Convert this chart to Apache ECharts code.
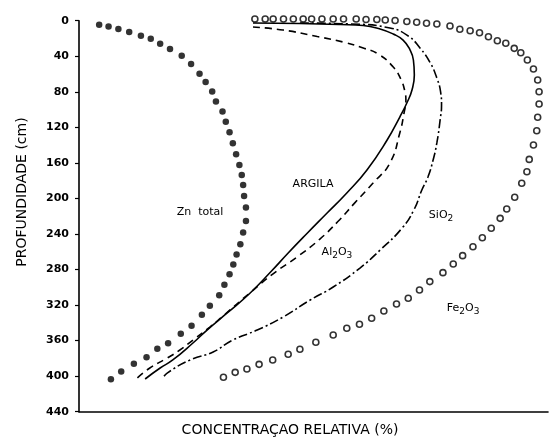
<!DOCTYPE html>
<html><head><meta charset="utf-8">
<script src="https://cdn.jsdelivr.net/npm/echarts@6/dist/echarts.min.js"></script>
<style>html,body{margin:0;padding:0;background:#fff}#c{width:550px;height:438px}</style>
</head><body><div id="c"></div>
<script>
// Depth axis (cm)
const depthMin = 0, depthMax = 440, depthStep = 40;

// [relative concentration (0-100), depth (cm)]
const znTotal = [[4.3,4.5],[6.3,6.4],[8.4,9.3],[10.7,12.7],[13.2,16.9],[15.3,20.3],[17.3,25.9],[19.4,31.9],[21.9,39.5],[23.9,48.8],[25.7,59.8],[27.0,69.1],[28.4,79.7],[29.2,91.0],[30.6,102.3],[31.3,113.6],[32.1,125.5],[32.8,137.9],[33.5,150.3],[34.2,162.4],[34.7,173.7],[35.0,185.0],[35.2,197.4],[35.6,210.1],[35.6,225.3],[35.0,238.3],[34.4,251.5],[33.6,263.2],[32.9,274.4],[32.1,285.4],[31.0,297.0],[29.9,309.0],[27.9,320.7],[26.2,330.8],[24.0,343.3],[21.7,352.3],[19.0,362.9],[16.7,369.2],[14.4,378.7],[11.7,386.1],[9.0,394.8],[6.8,403.5]];

const argila = [[37.1,2.6],[47.1,3.2],[55.7,4.3],[60.6,5.4],[64.2,9.3],[67.0,15.0],[69.1,21.8],[70.6,33.0],[71.3,44.2],[71.5,61.1],[71.0,78.0],[69.9,92.6],[68.4,108.4],[65.7,134.3],[61.4,168.0],[57.1,193.9],[52.9,216.4],[48.5,240.0],[44.5,262.0],[41.0,282.0],[36.5,306.4],[31.6,328.9],[27.3,348.1],[24.3,362.7],[20.0,381.8],[17.3,390.8],[14.1,403.2]];

const al2o3 = [[37.1,7.1],[43.5,10.5],[50.8,17.8],[56.7,24.5],[60.6,30.7],[63.8,37.5],[67.0,52.1],[68.7,66.7],[69.5,80.2],[69.7,89.2],[69.3,103.9],[68.4,126.3],[66.3,160.1],[62.7,182.6],[58.8,205.0],[55.2,226.0],[51.3,246.0],[46.6,265.5],[41.6,284.0],[36.5,306.0],[30.7,332.3],[27.9,344.7],[24.3,359.3],[21.5,370.6],[18.8,379.6],[15.1,390.8],[12.4,402.1]];

const sio2 = [[47.1,2.6],[57.8,3.7],[66.3,8.2],[70.2,17.2],[72.7,30.7],[74.8,46.5],[76.3,64.5],[77.1,80.2],[77.3,94.8],[77.0,111.7],[76.3,137.6],[75.5,156.8],[74.4,175.9],[73.1,190.5],[71.4,213.0],[68.9,233.3],[64.2,258.1],[59.9,278.3],[54.2,299.7],[49.3,314.3],[43.5,333.5],[38.0,348.1],[32.8,359.3],[28.6,372.8],[23.7,381.8],[18.8,396.5],[17.9,402.1]];

const fe2o3 = [[37.5,-1.9],[39.7,-1.9],[41.4,-1.9],[43.6,-1.9],[45.7,-1.9],[47.8,-1.9],[49.6,-1.9],[51.8,-1.9],[54.2,-1.9],[56.4,-1.9],[59.1,-1.9],[61.2,-1.4],[63.5,-1.4],[65.3,-0.8],[67.4,-0.2],[69.9,0.9],[72.0,1.8],[74.1,2.9],[76.3,3.7],[79.1,6.0],[81.2,9.7],[83.4,11.3],[85.4,13.5],[87.3,18.0],[89.2,22.5],[91.0,25.4],[92.8,31.1],[94.2,36.0],[95.6,44.2],[96.9,54.4],[97.8,66.7],[98.1,79.9],[98.1,93.7],[97.8,108.7],[97.6,123.8],[96.9,139.9],[96.0,156.1],[95.5,170.0],[94.4,183.0],[92.9,198.7],[91.2,211.9],[89.8,222.4],[87.9,233.6],[86.0,244.2],[84.0,254.3],[81.8,264.4],[79.8,273.8],[77.6,283.5],[74.8,293.6],[72.6,303.0],[70.2,312.4],[67.7,318.8],[65.0,326.7],[62.4,334.9],[59.8,341.6],[57.1,346.1],[54.2,353.7],[50.5,361.9],[47.1,369.8],[44.6,375.4],[41.3,381.8],[38.4,386.7],[35.8,391.9],[33.3,395.7],[30.8,401.3]];

// Curve labels: [text, x, depth]
const curveLabels = [
  ['{n|Zn  total}', 25.8, 215.6],
  ['{n|ARGILA}', 49.9, 183.8],
  ['{n|Al}{s|2}{n|O}{s|3}', 55.0, 260.3],
  ['{n|SiO}{s|2}', 77.2, 218.7],
  ['{n|Fe}{s|2}{n|O}{s|3}', 81.9, 323.3]
];

const FONT = '"DejaVu Sans", "Liberation Sans", sans-serif';
const chart = echarts.init(document.getElementById('c'));
const lineBase = (name, data, type) => ({
  name, type: 'line', data, smooth: 0.5, symbol: 'none', clip: false,
  lineStyle: { color: '#000', width: 1.6, type }
});
chart.setOption({
  animation: false,
  backgroundColor: '#fff',
  grid: { left: 79, right: 2, top: 20.7, bottom: 26.3 },
  xAxis: {
    type: 'value', min: 0, max: 100, position: 'bottom',
    axisLine: { onZero: false, lineStyle: { color: '#000', width: 1.6 } },
    axisTick: { show: false }, axisLabel: { show: false }, splitLine: { show: false }
  },
  yAxis: {
    type: 'value', inverse: true, min: depthMin, max: depthMax, interval: depthStep,
    axisLine: { show: true, onZero: false, lineStyle: { color: '#000', width: 1.6 } },
    axisTick: { show: true, inside: false, length: 4, lineStyle: { color: '#000', width: 1.2 } },
    axisLabel: { color: '#000', fontSize: 11, fontFamily: FONT, fontWeight: 'bold', margin: 10 },
    splitLine: { show: false }
  },
  graphic: [
    { type: 'text', x: 22, y: 192, rotation: Math.PI / 2,
      style: { text: 'PROFUNDIDADE (cm)', fill: '#000', font: '14px ' + FONT, textAlign: 'center', textVerticalAlign: 'middle' } },
    { type: 'text', x: 290, y: 430,
      style: { text: 'CONCENTRAÇAO RELATIVA (%)', fill: '#000', font: '14px ' + FONT, textAlign: 'center', textVerticalAlign: 'middle' } }
  ],
  series: [
    { name: 'Zn total', type: 'scatter', data: znTotal, symbol: 'circle', symbolSize: 6.5, clip: false,
      itemStyle: { color: '#000' },
      markPoint: {
        symbol: 'circle', symbolSize: 0,
        label: {
          show: true, position: 'inside', formatter: p => p.name,
          rich: {
            n: { fontSize: 11, fontFamily: FONT, color: '#000' },
            s: { fontSize: 9, fontFamily: FONT, color: '#000', padding: [7, 0, 0, 0] }
          }
        },
        data: curveLabels.map(l => ({ name: l[0], coord: [l[1], l[2]] }))
      }
    },
    lineBase('ARGILA', argila, 'solid'),
    lineBase('Al2O3', al2o3, [7, 5]),
    lineBase('SiO2', sio2, [9, 3, 2, 3]),
    { name: 'Fe2O3', type: 'scatter', data: fe2o3, symbol: 'circle', symbolSize: 6, clip: false,
      itemStyle: { color: '#fff', borderColor: '#000', borderWidth: 1.6 } }
  ]
});
</script>
</body></html>
